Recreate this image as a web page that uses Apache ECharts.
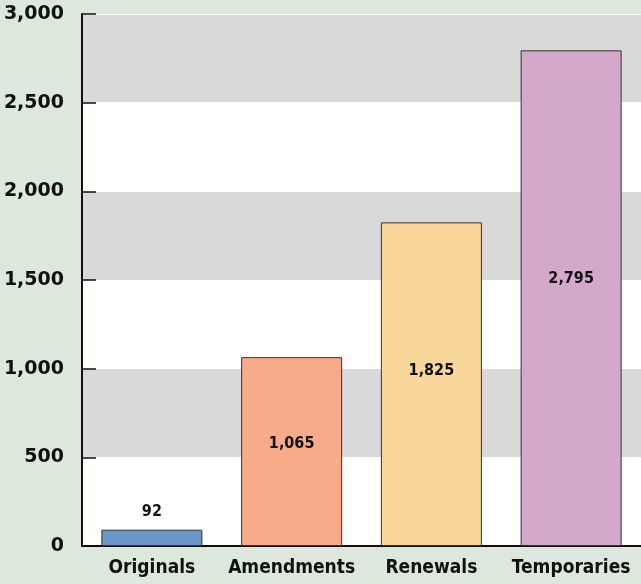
<!DOCTYPE html>
<html>
<head>
<meta charset="utf-8">
<script src="https://cdn.jsdelivr.net/npm/echarts@6/dist/echarts.min.js"></script>
<style>
  html, body { margin: 0; padding: 0; background: #dce8dc; }
  #chart { width: 641px; height: 584px; }
</style>
</head>
<body>
<div id="chart"></div>
<script>
  var categories = ['Originals', 'Amendments', 'Renewals', 'Temporaries'];
  var counts = [92, 1065, 1825, 2795];
  var barColors = ['#6a96cc', '#f7ab88', '#f9d699', '#d4a8cb'];

  var condensed = '"DejaVu Sans Condensed", "Liberation Sans Narrow", sans-serif';

  var chart = echarts.init(document.getElementById('chart'));
  chart.setOption({
    backgroundColor: '#dce8dc',
    animation: false,
    grid: { left: 82, right: -2, top: 14, bottom: 38 },
    xAxis: {
      type: 'category',
      data: categories,
      axisLine: { lineStyle: { color: '#111', width: 2 } },
      axisTick: { inside: true, length: 12, lineStyle: { color: '#111', width: 1.5 } },
      axisLabel: {
        interval: 0,
        color: '#111', fontSize: 19, fontWeight: 'bold',
        fontFamily: condensed, margin: 13
      }
    },
    yAxis: {
      type: 'value',
      min: 0, max: 3000, interval: 500,
      axisLine: { show: true, lineStyle: { color: '#111', width: 2 } },
      axisTick: { show: true, inside: true, length: 14, lineStyle: { color: '#111', width: 1.5 } },
      axisLabel: {
        color: '#111', fontSize: 19, fontWeight: 'bold',
        fontFamily: 'DejaVu Sans', margin: 18, padding: [6, 0, 0, 0],
        formatter: function (v) { return v.toLocaleString('en-US'); }
      },
      splitLine: { show: true, lineStyle: { color: '#ffffff', width: 1 } },
      splitArea: { show: true, areaStyle: { color: ['#ffffff', '#d9d9d9'] } }
    },
    series: [{
      type: 'bar',
      barWidth: 101,
      data: counts.map(function (v, i) {
        return {
          value: v,
          itemStyle: { color: barColors[i] },
          label: v < 300
            ? { position: 'top', distance: 10 }
            : { position: ['50%', '46%'], align: 'center', verticalAlign: 'middle' }
        };
      }),
      itemStyle: { borderColor: '#333', borderWidth: 1 },
      label: {
        show: true, color: '#111', fontSize: 16, fontWeight: 'bold',
        fontFamily: condensed,
        formatter: function (p) { return p.value.toLocaleString('en-US'); }
      }
    }]
  });
</script>
</body>
</html>
